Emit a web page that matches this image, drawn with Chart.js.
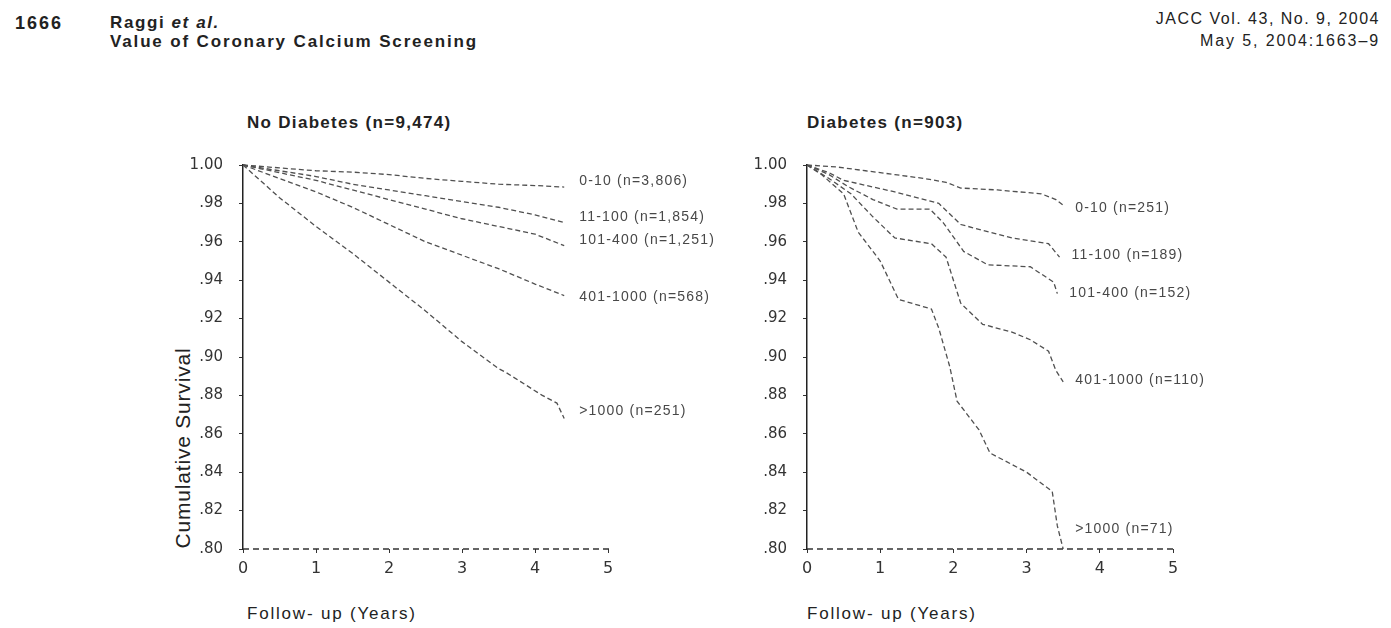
<!DOCTYPE html>
<html>
<head>
<meta charset="utf-8">
<script src="https://cdn.jsdelivr.net/npm/chart.js@4"></script>
<style>
  body { margin: 0; width: 1391px; height: 628px; background: #fff; position: relative; overflow: hidden;
         font-family: "Liberation Sans", Arial, sans-serif; color: #222; }
  .t { position: absolute; white-space: nowrap; line-height: 1; }
  canvas { position: absolute; }
</style>
</head>
<body>
<div class="t" style="left:15px;top:14px;font-size:18px;font-weight:bold;letter-spacing:2px;">1666</div>
<div class="t" style="left:110px;top:14px;font-size:17px;font-weight:bold;letter-spacing:1.6px;">Raggi <i>et al.</i></div>
<div class="t" style="left:110px;top:33px;font-size:17px;font-weight:bold;letter-spacing:1.85px;">Value of Coronary Calcium Screening</div>
<div class="t" style="right:11px;top:11px;font-size:16px;text-align:right;letter-spacing:1.5px;">JACC Vol. 43, No. 9, 2004</div>
<div class="t" style="right:11px;top:33px;font-size:16px;text-align:right;letter-spacing:1.9px;">May 5, 2004:1663–9</div>

<div class="t" style="left:247px;top:114px;font-size:17px;font-weight:bold;letter-spacing:1.3px;">No Diabetes (n=9,474)</div>
<div class="t" style="left:807px;top:114px;font-size:17px;font-weight:bold;letter-spacing:1.3px;">Diabetes (n=903)</div>

<div class="t" style="left:182px;top:448px;font-size:21px;letter-spacing:0.8px;transform:translate(-50%,-50%) rotate(-90deg);transform-origin:center;">Cumulative Survival</div>
<div class="t" style="left:247px;top:605px;font-size:17px;letter-spacing:1.8px;">Follow- up (Years)</div>
<div class="t" style="left:807px;top:605px;font-size:17px;letter-spacing:1.8px;">Follow- up (Years)</div>

<canvas id="left" width="590" height="440" style="left:150px;top:140px;width:590px;height:440px;"></canvas>
<canvas id="right" width="560" height="440" style="left:710px;top:140px;width:560px;height:440px;"></canvas>

<script>
// No diabetes (n=9,474) - survival by calcium score group
const ndYears0 = [0, 0.5, 1, 1.5, 2, 2.5, 3, 3.5, 4, 4.4];
const nd_0_10 = [1.000, 0.9985, 0.997, 0.9963, 0.995, 0.993, 0.9915, 0.990, 0.9893, 0.9885];
const nd_11_100 = [1.000, 0.997, 0.994, 0.990, 0.987, 0.984, 0.981, 0.978, 0.974, 0.970];
const nd_101_400 = [1.000, 0.996, 0.992, 0.987, 0.982, 0.977, 0.972, 0.968, 0.964, 0.958];
const nd_401_1000 = [1.000, 0.993, 0.986, 0.978, 0.969, 0.960, 0.953, 0.946, 0.938, 0.932];
const ndYears5 = [0, 0.5, 1, 1.5, 2, 2.5, 3, 3.5, 3.6, 4.1, 4.3, 4.4];
const nd_over_1000 = [1.000, 0.983, 0.968, 0.954, 0.939, 0.924, 0.908, 0.894, 0.892, 0.880, 0.876, 0.868];
const ndLabels = ["0-10 (n=3,806)", "11-100 (n=1,854)", "101-400 (n=1,251)", "401-1000 (n=568)", ">1000 (n=251)"];

// Diabetes (n=903)
const dYears_0_10 = [0, 0.4, 0.8, 1.2, 1.6, 1.9, 2.1, 2.6, 3.2, 3.4, 3.5];
const d_0_10 = [1.000, 0.999, 0.997, 0.995, 0.993, 0.991, 0.988, 0.987, 0.985, 0.982, 0.979];
const dYears_11_100 = [0, 0.3, 0.5, 1.2, 1.8, 2.1, 2.8, 3.3, 3.45];
const d_11_100 = [1.000, 0.996, 0.992, 0.986, 0.980, 0.969, 0.962, 0.959, 0.952];
const dYears_101_400 = [0, 0.3, 0.55, 0.9, 1.23, 1.68, 1.86, 2.14, 2.47, 3.05, 3.37, 3.42];
const d_101_400 = [1.000, 0.995, 0.989, 0.982, 0.977, 0.977, 0.970, 0.955, 0.948, 0.947, 0.939, 0.933];
const dYears_401_1000 = [0, 0.3, 0.6, 0.9, 1.2, 1.7, 1.9, 2.0, 2.1, 2.4, 2.8, 3.05, 3.3, 3.4, 3.5];
const d_401_1000 = [1.000, 0.993, 0.985, 0.973, 0.962, 0.959, 0.952, 0.940, 0.928, 0.917, 0.913, 0.909, 0.903, 0.893, 0.887];
const dYears_over_1000 = [0, 0.2, 0.5, 0.7, 1.0, 1.25, 1.7, 1.8, 1.95, 2.05, 2.35, 2.5, 3.0, 3.35, 3.42, 3.5];
const d_over_1000 = [1.000, 0.995, 0.985, 0.965, 0.950, 0.930, 0.925, 0.915, 0.895, 0.877, 0.862, 0.850, 0.840, 0.830, 0.812, 0.800];
const dLabels = ["0-10 (n=251)", "11-100 (n=189)", "101-400 (n=152)", "401-1000 (n=110)", ">1000 (n=71)"];

const xTicks = [0, 1, 2, 3, 4, 5];
const yMin = 0.80, yMax = 1.00, yStep = 0.02;

const pts = (xs, ys) => xs.map((x, i) => ({ x: x, y: ys[i] }));

// group name at the end of each curve
const endLabels = {
  id: "endLabels",
  afterDatasetsDraw(chart, args, opts) {
    const ctx = chart.ctx;
    ctx.save();
    ctx.font = "14px 'Liberation Sans', Arial, sans-serif";
    ctx.letterSpacing = "1.2px";
    ctx.fillStyle = "#484848";
    ctx.textBaseline = "middle";
    chart.data.datasets.forEach((ds, i) => {
      const meta = chart.getDatasetMeta(i);
      const last = meta.data[meta.data.length - 1];
      ctx.fillText(opts.labels[i], last.x + opts.dx, last.y + opts.dy[i]);
    });
    ctx.restore();
  }
};

// the x axis line is dashed in the original
const dashedBase = {
  id: "dashedBase",
  afterDraw(chart) {
    const ctx = chart.ctx, a = chart.chartArea;
    ctx.save();
    ctx.strokeStyle = "#333";
    ctx.lineWidth = 1.4;
    ctx.setLineDash([6, 4]);
    ctx.beginPath();
    ctx.moveTo(a.left, a.bottom);
    ctx.lineTo(a.right + 3, a.bottom);
    ctx.stroke();
    ctx.restore();
  }
};

function makeChart(id, series, labels, axisWidth, pad, dy, dx) {
  return new Chart(document.getElementById(id), {
    type: "line",
    data: {
      datasets: series.map(s => ({
        data: s,
        borderColor: "#505050",
        borderWidth: 1.3,
        borderDash: [5, 3],
        pointRadius: 0,
        tension: 0,
        fill: false,
        clip: false
      }))
    },
    options: {
      responsive: false,
      animation: false,
      events: [],
      layout: { padding: pad },
      plugins: {
        legend: { display: false },
        tooltip: { enabled: false },
        endLabels: { labels: labels, dy: dy, dx: dx }
      },
      scales: {
        x: {
          type: "linear",
          min: 0, max: 5,
          afterBuildTicks: s => { s.ticks = xTicks.map(v => ({ value: v })); },
          afterFit: s => { s.height = 31; },
          grid: { drawOnChartArea: false, drawTicks: true, tickLength: 4, color: "#333" },
          border: { display: false },
          ticks: { color: "#333", padding: 6, font: { size: 16, family: "'DejaVu Sans', sans-serif" } }
        },
        y: {
          type: "linear",
          min: yMin, max: yMax,
          ticks: {
            stepSize: yStep,
            color: "#333",
            padding: 16,
            font: { size: 15, family: "'DejaVu Sans', sans-serif" },
            callback: v => {
              const r = Math.round(v * 100);
              return r === 100 ? "1.00" : "." + r;
            }
          },
          afterFit: s => { s.width = axisWidth; },
          grid: { drawOnChartArea: false, drawTicks: true, tickLength: 4, color: "#333" },
          border: { display: true, color: "#222", width: 1.5 }
        }
      }
    },
    plugins: [endLabels, dashedBase]
  });
}

makeChart("left", [
  pts(ndYears0, nd_0_10),
  pts(ndYears0, nd_11_100),
  pts(ndYears0, nd_101_400),
  pts(ndYears0, nd_401_1000),
  pts(ndYears5, nd_over_1000)
], ndLabels, 93, { top: 19, right: 132, left: 0, bottom: 0 }, [-6, -5, -5, 2, -7], 15);

makeChart("right", [
  pts(dYears_0_10, d_0_10),
  pts(dYears_11_100, d_11_100),
  pts(dYears_101_400, d_101_400),
  pts(dYears_401_1000, d_401_1000),
  pts(dYears_over_1000, d_over_1000)
], dLabels, 97, { top: 20, right: 97, left: 0, bottom: 0 }, [3, -2, 0, -2, -20], 12);
</script>
</body>
</html>
